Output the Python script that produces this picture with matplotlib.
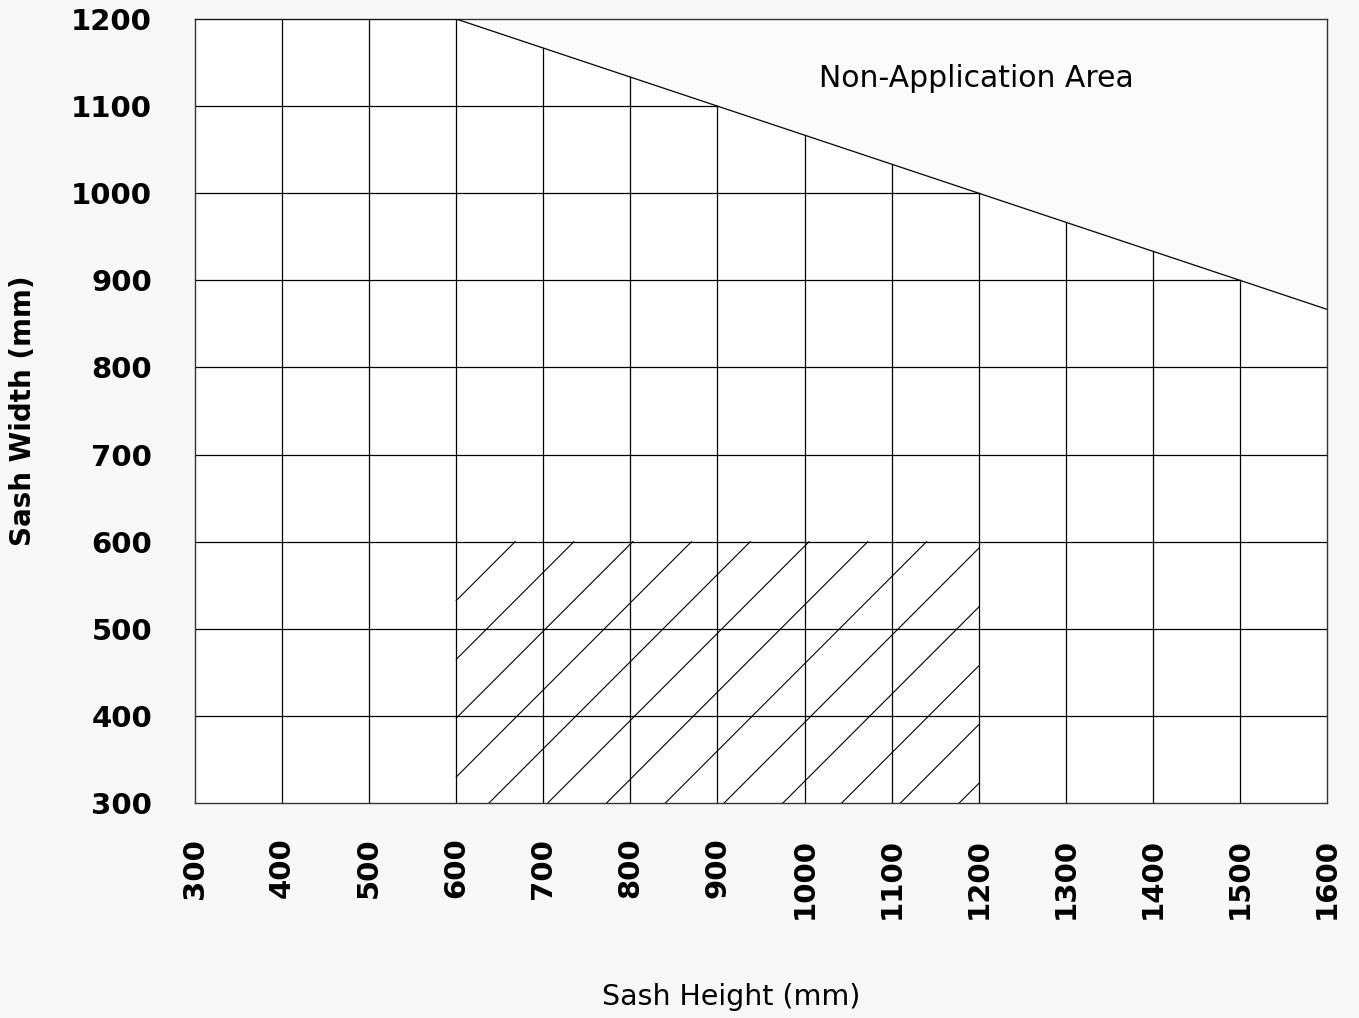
import matplotlib.pyplot as plt
import numpy as np

# axis ticks (mm)
height_ticks = [300, 400, 500, 600, 700, 800, 900, 1000, 1100, 1200, 1300, 1400, 1500, 1600]
width_ticks = [300, 400, 500, 600, 700, 800, 900, 1000, 1100, 1200]

# upper limit of the application area
limit_height = [300, 600, 1600]
limit_width = [1200, 1200, 866.7]

# hatched zone
hatch_height = [600, 1200]
hatch_width = [300, 600]
hatch_first = 67.6   # offset x - y of first hatch line
hatch_step = 67.5
hatch_count = 13

plt.rcParams['font.family'] = ['DejaVu Sans']

fig = plt.figure(figsize=(13.59, 10.18), dpi=100, facecolor='#f8f8f8')
ax = fig.add_axes([0.1435, 0.2112, 0.833, 0.7701])
ax.set_facecolor('#fbfbfb')
ax.set_xlim(300, 1600)
ax.set_ylim(300, 1200)

# application area in white
ax.fill_between(limit_height, 300, limit_width, color='white', zorder=0)

lw = 0.9
# vertical grid lines stop at the limit line
for h in height_ticks[1:-1]:
    top = np.interp(h, limit_height, limit_width)
    ax.plot([h, h], [300, top], color='black', lw=lw, zorder=2)

# horizontal grid lines stop at the limit line
for w in width_ticks[1:-1]:
    end = np.interp(-w, [-v for v in limit_width[1:]], limit_height[1:])
    if w <= limit_width[-1]:
        end = 1600
    ax.plot([300, end], [w, w], color='black', lw=lw, zorder=2)

ax.plot(limit_height, limit_width, color='black', lw=lw, zorder=3)

# hatch lines y = x - c
for k in range(hatch_count):
    c = hatch_first + k * hatch_step
    x_start = max(hatch_height[0], hatch_width[0] + c)
    x_end = min(hatch_height[1], hatch_width[1] + c)
    if x_start < x_end:
        ax.plot([x_start, x_end], [x_start - c, x_end - c], color='black', lw=0.8, zorder=2)

for s in ax.spines.values():
    s.set_color('#333333')
    s.set_linewidth(1.0)

ax.set_xticks(height_ticks)
ax.set_yticks(width_ticks)
ax.set_xticklabels([str(v) for v in height_ticks], rotation=90, fontsize=21, fontweight='bold')
ax.set_yticklabels([str(v) for v in width_ticks], fontsize=21, fontweight='bold')
ax.tick_params(axis='x', length=0, pad=25)
ax.tick_params(axis='y', length=0, pad=31)

ax.text(1197, 1132, "Non-Application Area", fontsize=21.5, ha='center', va='center')

fig.text(0.538, 0.021, "Sash Height (mm)", fontsize=20.5, ha='center', va='center')
fig.text(0.017, 0.597, "Sash Width (mm)", fontsize=20, ha='center', va='center',
         rotation=90, fontweight='bold')

plt.savefig("out.png", dpi=100, facecolor=fig.get_facecolor())
